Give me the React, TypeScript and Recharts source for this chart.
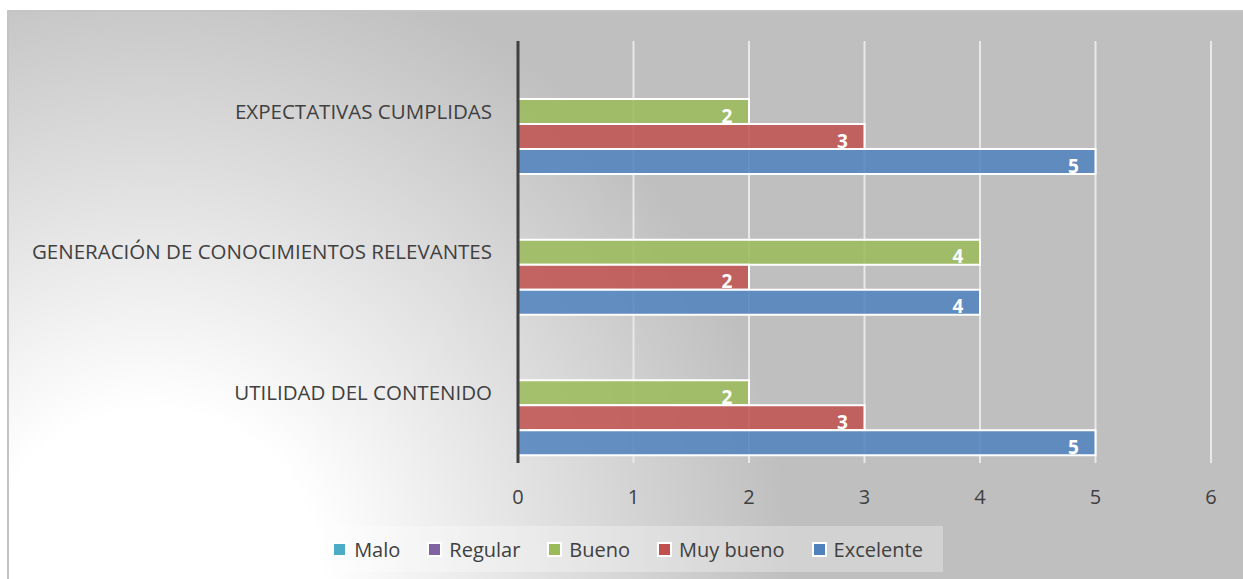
import {
  Bar,
  BarChart,
  CartesianGrid,
  LabelList,
  Legend,
  XAxis,
  YAxis,
} from "recharts";

const categories = [
  "EXPECTATIVAS CUMPLIDAS",
  "GENERACIÓN DE CONOCIMIENTOS RELEVANTES",
  "UTILIDAD DEL CONTENIDO",
];
const malo: (number | null)[] = [null, null, null];
const regular: (number | null)[] = [null, null, null];
const bueno = [2, 4, 2];
const muyBueno = [3, 2, 3];
const excelente = [5, 4, 5];
const xTicks = [0, 1, 2, 3, 4, 5, 6];

const series = [
  { key: "Malo", color: "#4BACC6" },
  { key: "Regular", color: "#8064A2" },
  { key: "Bueno", color: "#9BBB59" },
  { key: "Muy bueno", color: "#C0504D" },
  { key: "Excelente", color: "#4F81BD" },
];

const data = categories.map((name, i) => ({
  name,
  Malo: malo[i],
  Regular: regular[i],
  Bueno: bueno[i],
  "Muy bueno": muyBueno[i],
  Excelente: excelente[i],
}));

const FONT = "'Open Sans', sans-serif";

function ValueLabel(props: any) {
  const { x, y, width, height, value } = props;
  if (value == null) return null;
  return (
    <text
      x={x + width - 22}
      y={y + height / 2 + 4}
      fill="#ffffff"
      fontWeight="bold"
      fontSize={19}
      fontFamily={FONT}
      textAnchor="middle"
      dominantBaseline="central"
    >
      {value}
    </text>
  );
}

function LegendBox() {
  return (
    <div
      style={{
        width: 631,
        height: 46,
        background: "rgba(255,255,255,0.3)",
        display: "flex",
        alignItems: "center",
        justifyContent: "center",
        gap: 27,
        fontFamily: FONT,
        fontSize: 20,
        color: "#404040",
      }}
    >
      {series.map((s) => (
        <div key={s.key} style={{ display: "flex", alignItems: "center", gap: 7 }}>
          <span
            style={{
              width: 11,
              height: 11,
              background: s.color,
              border: "2px solid #fff",
              display: "inline-block",
            }}
          />
          <span>{s.key}</span>
        </div>
      ))}
    </div>
  );
}

export default function App() {
  return (
    <div
      style={{
        position: "absolute",
        left: 0,
        top: 0,
        width: 1243,
        height: 579,
        overflow: "hidden",
        background: "#ffffff",
      }}
    >
      <div
        style={{
          position: "absolute",
          left: 7,
          top: 10,
          width: 1250,
          height: 580,
          borderLeft: "2px solid #c4c4c4",
          borderTop: "2px solid #c4c4c4",
          background:
            "radial-gradient(circle at 143px 569px, #ffffff 0px, #ffffff 170px, #bfbfbf 640px)",
        }}
      />
      <div style={{ position: "absolute", left: 0, top: 0 }}>
        <BarChart
          width={1243}
          height={579}
          data={data}
          layout="vertical"
          barGap={0}
          barCategoryGap={8}
          margin={{ top: 41, right: 32, left: 0, bottom: 20 }}
        >
          <CartesianGrid
            horizontal={false}
            stroke="#e8e8e8"
            strokeWidth={2}
          />
          <XAxis
            type="number"
            domain={[0, 6]}
            ticks={xTicks}
            axisLine={false}
            tickLine={false}
            tickSize={0}
            tickMargin={27}
            height={50}
            tick={{ fill: "#404040", fontSize: 20, fontFamily: FONT }}
          />
          <YAxis
            type="category"
            dataKey="name"
            width={518}
            axisLine={{ stroke: "#404040", strokeWidth: 3 }}
            tickLine={false}
            tickSize={0}
            tickMargin={26}
            tick={{ fill: "#404040", fontSize: 20.5, fontFamily: FONT }}
          />
          <Legend
            content={() => <LegendBox />}
            wrapperStyle={{ position: "absolute", left: 312, top: 526, width: 631, height: 46 }}
          />
          {series.map((s) => (
            <Bar
              key={s.key}
              dataKey={s.key}
              fill={s.color}
              fillOpacity={0.85}
              stroke="#ffffff"
              strokeWidth={2}
              isAnimationActive={false}
            >
              {s.key !== "Malo" && s.key !== "Regular" && (
                <LabelList dataKey={s.key} content={<ValueLabel />} />
              )}
            </Bar>
          ))}
        </BarChart>
      </div>
    </div>
  );
}
